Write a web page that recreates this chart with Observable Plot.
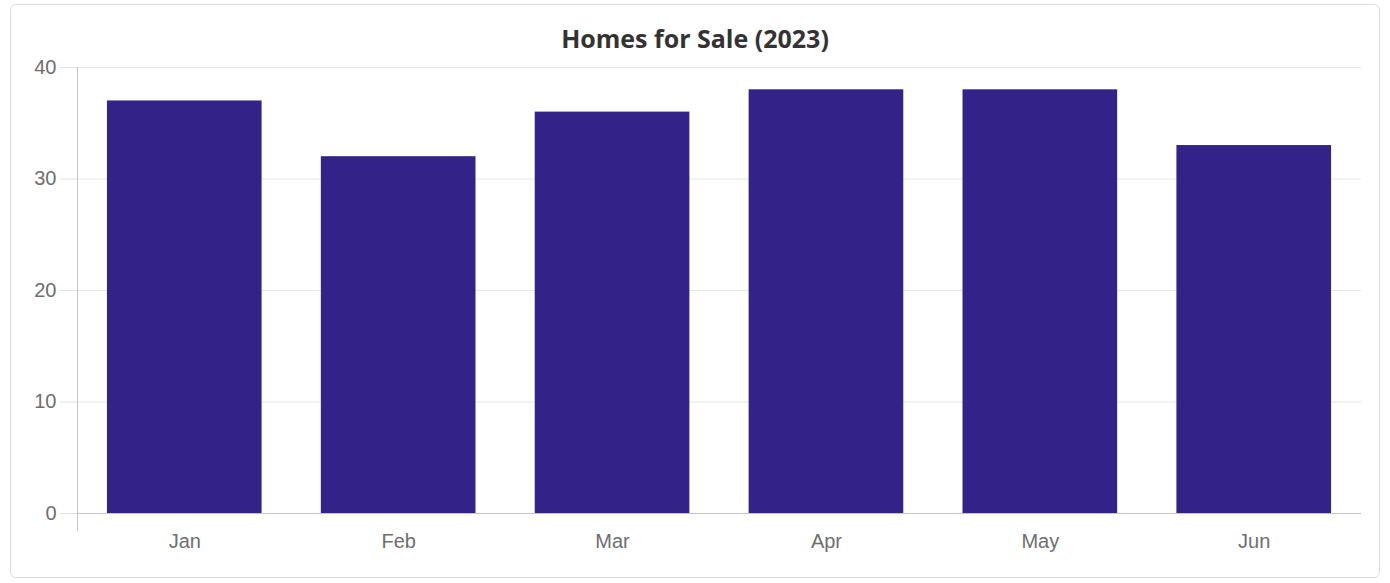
<!DOCTYPE html>
<html>
<head>
<meta charset="utf-8">
<script src="https://cdn.jsdelivr.net/npm/d3@7"></script>
<script src="https://cdn.jsdelivr.net/npm/@observablehq/plot@0.6"></script>
<style>
  html, body { margin: 0; padding: 0; background: #fff; }
  #wrap { position: relative; width: 1390px; height: 583px; overflow: hidden; }
  #border { position: absolute; left: 10px; top: 4px; width: 1370px; height: 574px; border: 1px solid #dcdcdc; border-radius: 6px; box-sizing: border-box; }
  #title { position: absolute; left: 0; width: 1390px; top: 21px; text-align: center; font-family: "Open Sans", sans-serif; font-weight: 700; font-size: 25px; color: #333; letter-spacing: 0px; }
  #chart { position: absolute; left: 0; top: 0; }
</style>
</head>
<body>
<div id="wrap">
  <div id="border"></div>
  <div id="title">Homes for Sale (2023)</div>
  <div id="chart"></div>
</div>
<script>
const months = ["Jan", "Feb", "Mar", "Apr", "May", "Jun"];
const homesForSale = [37, 32, 36, 38, 38, 33];
const yTicks = [0, 10, 20, 30, 40];

const data = months.map((m, i) => ({month: m, value: homesForSale[i]}));

const chart = Plot.plot({
  width: 1390,
  height: 583,
  marginTop: 67,
  marginBottom: 70,
  marginLeft: 77,
  marginRight: 29,
  style: {fontFamily: "'Liberation Sans', Arial, sans-serif", fontSize: "20px", background: "transparent", overflow: "visible"},
  x: {type: "band", domain: months, paddingInner: 0.277, paddingOuter: 0.14, round: false, label: null},
  y: {domain: [0, 40], ticks: yTicks, label: null},
  marks: [
    Plot.gridY(yTicks, {stroke: "#e6e6e6", strokeOpacity: 1}),
    Plot.barY(data, {x: "month", y: "value", fill: "#332288"}),
    Plot.ruleY([0], {stroke: "#c4c4c4", strokeOpacity: 1}),
    Plot.frame({anchor: "left", stroke: "#c4c4c4", insetBottom: -17}),
    Plot.axisY(yTicks, {tickSize: 17, tickPadding: 4, stroke: "#e0e0e0", fill: "#6e6e6e", label: null}),
    Plot.axisX({tickSize: 0, tickPadding: 20, fill: "#6e6e6e", label: null})
  ]
});
document.getElementById("chart").appendChild(chart);
</script>
</body>
</html>
